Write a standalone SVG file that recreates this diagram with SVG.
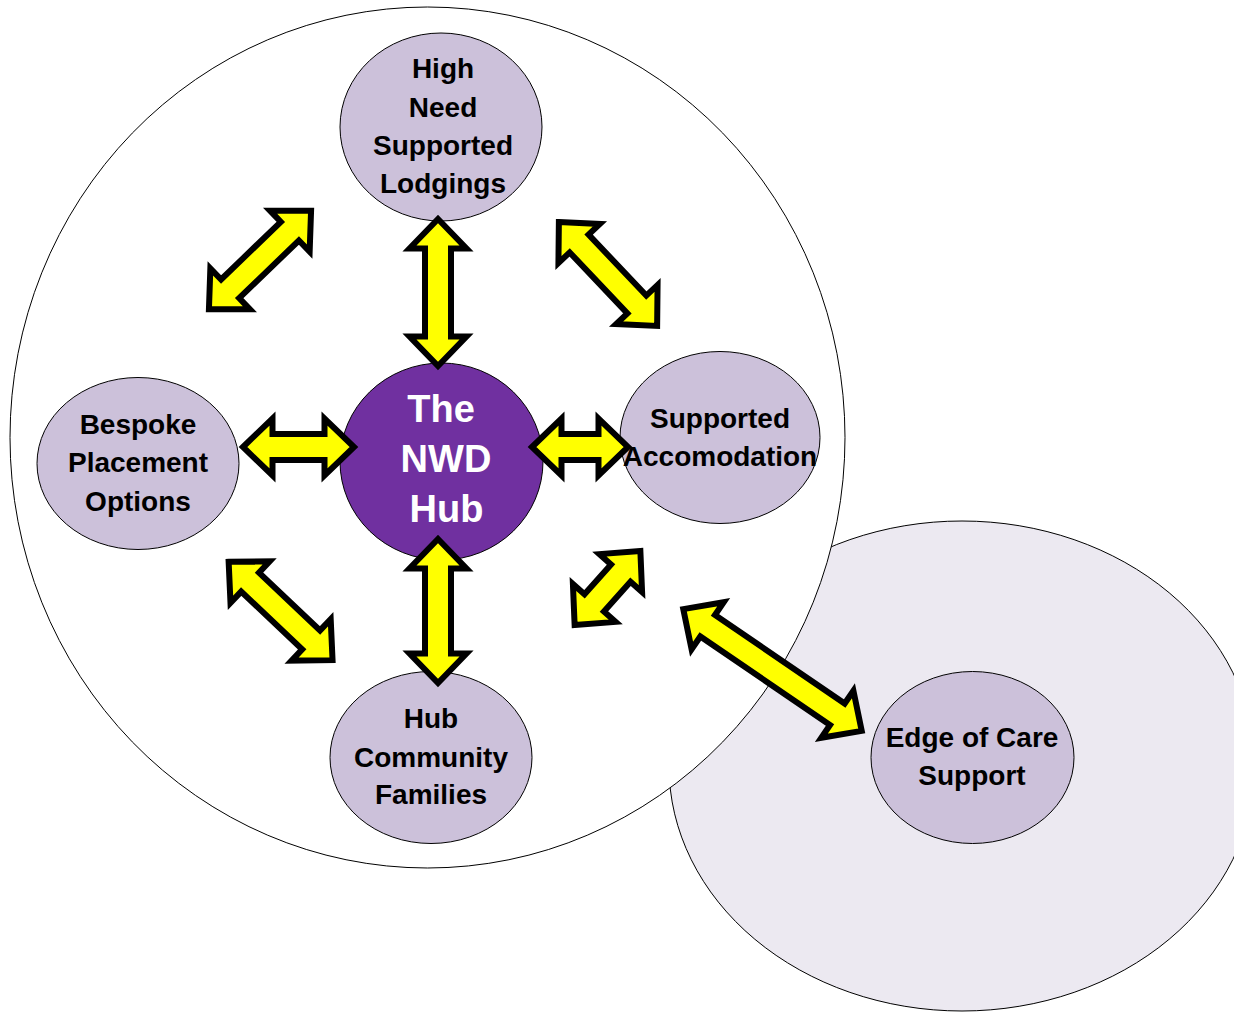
<svg xmlns="http://www.w3.org/2000/svg" width="1234" height="1012" viewBox="0 0 1234 1012">
<style>
.bg{fill:#ffffff}
.outer{stroke:#000;stroke-width:1}
.node{fill:#CCC1DA;stroke:#000;stroke-width:1}
.hub{fill:#7030A0;stroke:#000;stroke-width:1}
.lbl{font-family:"Liberation Sans",Arial,sans-serif;font-weight:bold;font-size:28px;fill:#000;text-anchor:middle}
.hubl{font-family:"Liberation Sans",Arial,sans-serif;font-weight:bold;font-size:38px;fill:#fff;text-anchor:middle}
.arr{fill:#FFFF00;stroke:#000;stroke-width:6;stroke-linejoin:miter;stroke-miterlimit:4}
</style>
<rect x="0" y="0" width="1234" height="1012" class="bg"/>
<g id="regions">
  <ellipse id="edge-region" class="outer" cx="962" cy="766" rx="293" ry="245" fill="#ECE9F1"/>
  <ellipse id="hub-region" class="outer" cx="427.5" cy="437.5" rx="417.5" ry="430.5" fill="#ffffff"/>
</g>
<g id="nodes">
  <g id="node-high-need">
    <ellipse class="node" cx="441" cy="127" rx="101" ry="94"/>
    <text class="lbl" x="443" y="78">High</text>
    <text class="lbl" x="443" y="117">Need</text>
    <text class="lbl" x="443" y="155">Supported</text>
    <text class="lbl" x="443" y="193">Lodgings</text>
  </g>
  <g id="node-bespoke">
    <ellipse class="node" cx="138" cy="463.5" rx="101" ry="86"/>
    <text class="lbl" x="138" y="434">Bespoke</text>
    <text class="lbl" x="138" y="472">Placement</text>
    <text class="lbl" x="138" y="511">Options</text>
  </g>
  <g id="node-supported-accomodation">
    <ellipse class="node" cx="720" cy="437.5" rx="100" ry="86"/>
    <text class="lbl" x="720" y="428">Supported</text>
    <text class="lbl" x="720" y="466">Accomodation</text>
  </g>
  <g id="node-hub-community">
    <ellipse class="node" cx="431" cy="757.5" rx="101" ry="86"/>
    <text class="lbl" x="431" y="728">Hub</text>
    <text class="lbl" x="431" y="767">Community</text>
    <text class="lbl" x="431" y="804">Families</text>
  </g>
  <g id="node-edge-of-care">
    <ellipse class="node" cx="972.5" cy="757.5" rx="101.5" ry="86"/>
    <text class="lbl" x="972" y="747">Edge of Care</text>
    <text class="lbl" x="972" y="785">Support</text>
  </g>
  <g id="node-nwd-hub">
    <ellipse class="hub" cx="441.5" cy="461.5" rx="101.5" ry="98.5"/>
    <text class="hubl" x="441" y="422">The</text>
    <text class="hubl" x="446" y="472">NWD</text>
    <text class="hubl" x="446.5" y="522">Hub</text>
  </g>
</g>
<g id="connectors">
  <path class="arr" transform="translate(438,292.5) rotate(90)" d="M-73.5,0 L-44,-28.5 L-44,-13 L44,-13 L44,-28.5 L73.5,0 L44,28.5 L44,13 L-44,13 L-44,28.5 Z"/>
  <path class="arr" transform="translate(438,611) rotate(90)" d="M-72,0 L-42.5,-28.5 L-42.5,-13 L42.5,-13 L42.5,-28.5 L72,0 L42.5,28.5 L42.5,13 L-42.5,13 L-42.5,28.5 Z"/>
  <path class="arr" transform="translate(298.5,447)" d="M-55.5,0 L-26,-28.5 L-26,-13 L26,-13 L26,-28.5 L55.5,0 L26,28.5 L26,13 L-26,13 L-26,28.5 Z"/>
  <path class="arr" transform="translate(580,447)" d="M-48,0 L-18.5,-28.5 L-18.5,-13 L18.5,-13 L18.5,-28.5 L48,0 L18.5,28.5 L18.5,13 L-18.5,13 L-18.5,28.5 Z"/>
  <path class="arr" transform="translate(260,260) rotate(-44)" d="M-71,0 L-41.5,-28.5 L-41.5,-13 L41.5,-13 L41.5,-28.5 L71,0 L41.5,28.5 L41.5,13 L-41.5,13 L-41.5,28.5 Z"/>
  <path class="arr" transform="translate(608,274) rotate(46.6)" d="M-71.5,0 L-42,-28.5 L-42,-13 L42,-13 L42,-28.5 L71.5,0 L42,28.5 L42,13 L-42,13 L-42,28.5 Z"/>
  <path class="arr" transform="translate(280.6,611) rotate(43.4)" d="M-71.5,0 L-42,-28.5 L-42,-13 L42,-13 L42,-28.5 L71.5,0 L42,28.5 L42,13 L-42,13 L-42,28.5 Z"/>
  <path class="arr" transform="translate(607.5,588) rotate(-48.4)" d="M-49.5,0 L-20,-28.5 L-20,-13 L20,-13 L20,-28.5 L49.5,0 L20,28.5 L20,13 L-20,13 L-20,28.5 Z"/>
  <path class="arr" transform="translate(772.5,670) rotate(34.3)" d="M-108,0 L-78.5,-28.5 L-78.5,-13 L78.5,-13 L78.5,-28.5 L108,0 L78.5,28.5 L78.5,13 L-78.5,13 L-78.5,28.5 Z"/>
</g>
</svg>
